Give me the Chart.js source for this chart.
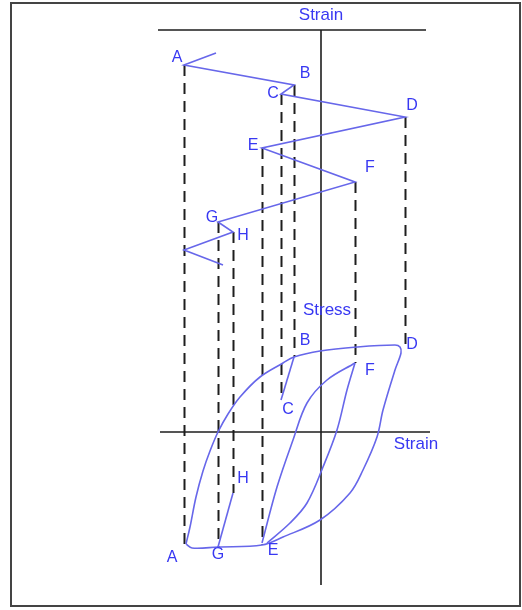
<!DOCTYPE html>
<html>
<head>
<meta charset="utf-8">
<title>Strain history and stress–strain response</title>
<script src="https://cdn.jsdelivr.net/npm/chart.js@4/dist/chart.umd.min.js"></script>
<style>
  html, body { margin: 0; padding: 0; background: #fff; }
  #wrap { position: relative; width: 522px; height: 610px; }
  #frame { position: absolute; left: 10px; top: 2px; width: 507px; height: 601px;
           border: 2px solid #444; box-sizing: content-box; pointer-events: none; }
  canvas { position: absolute; left: 0; top: 0; }
</style>
</head>
<body>
<div id="wrap">
  <canvas id="c" width="522" height="610"></canvas>
  <div id="frame"></div>
</div>
<script>
// Turning points of the strain history, in loading order
const pointNames   = ['A', 'B', 'C', 'D', 'E', 'F', 'G', 'H'];
const pointStrain  = [-13.7, -2.7, -4.0, 8.4, -5.9, 3.4, -10.3, -8.8];
const pointTime    = [3.5, 5.5, 6.4, 8.7, 11.8, 15.2, 19.2, 20.2];
const pointStress  = [-11.6, 7.5, 3.2, 8.7, -11.3, 6.9, -11.5, -6.1];

// Strain–time history (upper panel), including the lead-in and continuation
const historyStrain = [-10.5, -13.7, -2.7, -4.0, 8.4, -5.9, 3.4, -10.3, -8.8, -13.7, -9.8];
const historyTime   = [2.3, 3.5, 5.5, 6.4, 8.7, 11.8, 15.2, 19.2, 20.2, 22.0, 23.5];

// Outer hysteresis loop A → B → D → E → G → A
const outerStrain = [-13.5, -13.1, -12.5, -11.8, -11.1, -10.3, -9.3, -8.1, -6.1, -3.8, -2.7, -0.1, 3.6, 7.4, 7.9,
                     8.0, 7.4, 6.2, 5.6, 4.2, 2.9, -0.1, -3.8, -5.9, -10.3, -12.9, -13.5];
const outerStress = [-11.2, -9.5, -6.5, -3.9, -1.9, 0.0, 1.8, 3.5, 5.5, 6.9, 7.5, 8.1, 8.5, 8.7, 8.5,
                     7.9, 6.2, 2.2, -0.5, -3.8, -6.1, -8.8, -10.5, -11.3, -11.5, -11.6, -11.2];

// Inner loop: reloading E → F and unloading F → E
const innerUpStrain   = [-5.9, -4.4, -2.8, -1.4, 0.6, 3.4];
const innerUpStress   = [-11.1, -5.5, -0.8, 2.9, 5.2, 6.9];
const innerDownStrain = [3.4, 2.6, 1.6, 0.2, -1.4, -3.1, -5.4];
const innerDownStress = [6.9, 4.2, 0.2, -3.5, -7.1, -9.1, -11.1];

// Small unload/reload branches B → C and G → H
const branchBCStrain = [-2.7, -4.0];
const branchBCStress = [7.5, 3.2];
const branchGHStrain = [-10.3, -8.8];
const branchGHStress = [-11.5, -6.1];

const lineBlue = '#6767ea';
const textBlue = '#3838f2';
const ink = '#1e1e1e';

const pts = (xs, ys) => xs.map((x, i) => ({ x: x, y: ys[i] }));

// Label offsets (px) next to each turning point, per panel
const upperLabelOffset = { A: [-7, -7], B: [11, -11], C: [-8, 0], D: [7, -11],
                           E: [-9, -2], F: [15, -14], G: [-6, -4], H: [10, 4] };
const lowerLabelOffset = { A: [-12, 10], B: [11, -16], C: [7, 10], D: [7, 0],
                           E: [11, 6], F: [15, 8], G: [0, 8], H: [10, -14] };

const overlay = {
  id: 'schematicOverlay',
  beforeDatasetsDraw(chart) {
    const { ctx, scales } = chart;
    const x = scales.x, t = scales.t, s = scales.s;
    ctx.save();
    // Projection lines from the strain history to the stress–strain curve
    ctx.strokeStyle = ink;
    ctx.lineWidth = 2;
    ctx.setLineDash([11, 7]);
    pointNames.forEach((n, i) => {
      const px = Math.round(x.getPixelForValue(pointStrain[i])) + 0.5;
      ctx.beginPath();
      ctx.moveTo(px, t.getPixelForValue(pointTime[i]));
      ctx.lineTo(px, s.getPixelForValue(pointStress[i]));
      ctx.stroke();
    });
    ctx.setLineDash([]);
    // Axes: time origin line, common strain-zero line, stress-zero line
    ctx.lineWidth = 1.6;
    ctx.beginPath();
    ctx.moveTo(x.getPixelForValue(-16.3), t.getPixelForValue(0));
    ctx.lineTo(x.getPixelForValue(10.5), t.getPixelForValue(0));
    ctx.moveTo(x.getPixelForValue(0), t.getPixelForValue(0));
    ctx.lineTo(x.getPixelForValue(0), s.getPixelForValue(-15.3));
    ctx.moveTo(x.getPixelForValue(-16.1), s.getPixelForValue(0));
    ctx.lineTo(x.getPixelForValue(10.9), s.getPixelForValue(0));
    ctx.stroke();
    ctx.restore();
  },
  afterDatasetsDraw(chart) {
    const { ctx, scales } = chart;
    const x = scales.x, t = scales.t, s = scales.s;
    ctx.save();
    ctx.fillStyle = textBlue;
    ctx.textAlign = 'center';
    ctx.textBaseline = 'middle';
    ctx.font = '16px "Liberation Sans", Arial, sans-serif';
    pointNames.forEach((n, i) => {
      const px = x.getPixelForValue(pointStrain[i]);
      const ou = upperLabelOffset[n], ol = lowerLabelOffset[n];
      ctx.fillText(n, px + ou[0], t.getPixelForValue(pointTime[i]) + ou[1]);
      ctx.fillText(n, px + ol[0], s.getPixelForValue(pointStress[i]) + ol[1]);
    });
    ctx.font = '17px "Liberation Sans", Arial, sans-serif';
    ctx.fillText('Strain', x.getPixelForValue(0), t.getPixelForValue(-1.5));
    ctx.fillText('Stress', x.getPixelForValue(0.6), s.getPixelForValue(12.2));
    ctx.fillText('Strain', x.getPixelForValue(9.5), s.getPixelForValue(-1.2));
    ctx.restore();
  }
};

const curve = (data, yAxisID, tension) => ({
  data: data, yAxisID: yAxisID, showLine: true, fill: false,
  borderColor: lineBlue, borderWidth: 1.6, pointRadius: 0, tension: tension
});

new Chart(document.getElementById('c'), {
  type: 'scatter',
  data: {
    datasets: [
      curve(pts(historyStrain, historyTime), 't', 0),
      curve(pts(outerStrain, outerStress), 's', 0.35),
      curve(pts(innerUpStrain, innerUpStress), 's', 0.35),
      curve(pts(innerDownStrain, innerDownStress), 's', 0.35),
      curve(pts(branchBCStrain, branchBCStress), 's', 0),
      curve(pts(branchGHStrain, branchGHStress), 's', 0)
    ]
  },
  options: {
    responsive: false,
    animation: false,
    layout: { padding: 0 },
    plugins: { legend: { display: false }, tooltip: { enabled: false } },
    scales: {
      x: { type: 'linear', min: -32.1, max: 20.1, display: false },
      t: { type: 'linear', reverse: true, min: -3, max: 58, display: false },
      s: { type: 'linear', min: -17.8, max: 43.2, display: false }
    }
  },
  plugins: [overlay]
});
</script>
</body>
</html>
